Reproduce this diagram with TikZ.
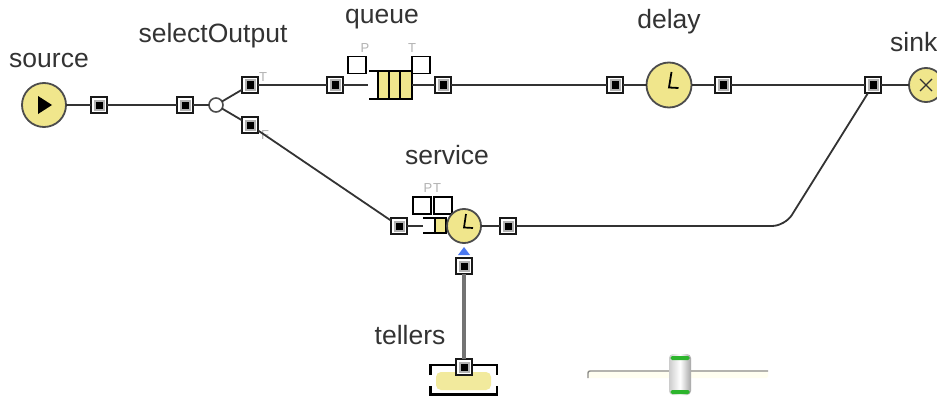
\documentclass[tikz,border=0pt]{standalone}
\usepackage{fontspec}
\setmainfont{Liberation Sans}
\usetikzlibrary{calc}
\definecolor{blockyellow}{HTML}{F0E68C}
\definecolor{wirecol}{HTML}{333333}
\definecolor{markblue}{HTML}{4A78F0}
\definecolor{thumbgreen}{HTML}{2DB52D}
\tikzset{
  x=1pt,y=-1pt,
  port/.style={draw=black!90,line width=2pt,fill=white,minimum size=16.5pt,inner sep=0pt,outer sep=0pt,
    path picture={\fill[black!30] (path picture bounding box.center) ++(-5.5pt,-5.5pt) rectangle ++(11pt,11pt);
      \fill[black] (path picture bounding box.center) ++(-3.5pt,-3.5pt) rectangle ++(7pt,7pt);}},
  wire/.style={draw=wirecol,line width=1.8pt},
  block/.style={circle,draw=black!70,line width=1.8pt,fill=blockyellow,inner sep=0pt,outer sep=0pt},
  title/.style={font=\fontsize{26.5}{28}\selectfont,text=black!80,inner sep=0pt},
  tiny/.style={font=\fontsize{13}{13}\selectfont,text=black!30,inner sep=0pt},
  slot/.style={draw=black,line width=1.8pt,fill=white,minimum width=18pt,minimum height=17pt,inner sep=0pt,outer sep=0pt},
  qline/.style={draw=black,line width=1.8pt},
  qcell/.style={draw=black,line width=2.2pt,fill=blockyellow,inner sep=0pt,outer sep=0pt},
}
\begin{document}
\begin{tikzpicture}
\useasboundingbox (0,0) rectangle (937,396);
\clip (0,0) rectangle (937,396);
\fill[white] (0,0) rectangle (937,396);

% titles
\node[title] (tsource) at (49,60) {source};
\node[title] (tselect) at (213,36) {selectOutput};
\node[title] (tqueue) at (382,19) {queue};
\node[title] (tdelay) at (669,22) {delay};
\node[title] (tservice) at (447,155) {service};
\node[title,anchor=west] (tsink) at (890,42) {sink};
\node[title] (ttellers) at (410,335) {tellers};

% small grey labels
\node[tiny] (lt1) at (263,77) {T};
\node[tiny] (lf1) at (265,135) {F};
\node[tiny] (lp2) at (365,48) {P};
\node[tiny] (lt2) at (412,48) {T};
\node[tiny] (lp3) at (428,188) {P};
\node[tiny] (lt3) at (437,188) {T};

% blocks
\node[block,minimum size=44pt] (source) at (44,105) {};
\fill[black] (38,96) -- (52,105) -- (38,114) -- cycle;
\node[circle,draw=black!70,line width=1.6pt,fill=white,minimum size=14pt,inner sep=0pt,outer sep=0pt] (split) at (216,105) {};

% queue block
\node[qcell,minimum width=11.5pt,minimum height=28pt] (qa) at (384,85) {};
\node[qcell,minimum width=11.5pt,minimum height=28pt] (qb) at (395,85) {};
\node[qcell,minimum width=11.5pt,minimum height=28pt] (qc) at (406,85) {};
\draw[qline] (369,71) -- (qa.north west);
\draw[qline] (369,99) -- (qa.south west);
\node[slot] (qp) at (357,65) {};
\node[slot] (qt) at (421,65) {};
\coordinate (qin) at (368,85);

% delay, sink
\node[block,minimum size=45pt] (delay) at (669,85) {};
\draw[black,line width=1.8pt] (671.5,72) -- (669,87.5) -- (678.5,88);
\node[block,minimum size=34pt] (sink) at (926,85) {};
\draw[black!80,line width=1.3pt] (920,79) -- (932,91) (932,79) -- (920,91);

% service block
\node[qcell,minimum width=11pt,minimum height=15pt] (sq) at (440.5,225.5) {};
\draw[qline] (423,218) -- (sq.north west);
\draw[qline] (423,233) -- (sq.south west);
\coordinate (sin) at (423,226);
\node[slot] (sp) at (422,205.5) {};
\node[slot] (st) at (443,205.5) {};
\node[block,minimum size=34pt] (service) at (464,226) {};
\draw[black,line width=1.7pt] (466,214) -- (464,227.5) -- (473,228);
\fill[markblue] (458,255) -- (464,247) -- (470,255) -- cycle;

% resource pool
\fill[blockyellow!85!white,rounded corners=5pt] (436,372) rectangle (491,390);
\draw[black,line width=2.8pt] (430.5,375) -- (430.5,365) -- (497,365) -- (497,375);
\draw[black,line width=2.8pt] (430.5,386) -- (430.5,394.5) -- (497,394.5) -- (497,386);

% ports
\node[port] (p1) at (99,105) {};
\node[port] (p2) at (185,105) {};
\node[port] (p3) at (250,85) {};
\node[port] (p4) at (250,125) {};
\node[port] (p5) at (335,85) {};
\node[port] (p6) at (443,85) {};
\node[port] (p7) at (615,85) {};
\node[port] (p8) at (723,85) {};
\node[port] (p9) at (873,85) {};
\node[port] (p10) at (399,226) {};
\node[port] (p11) at (508,226) {};
\node[port] (p12) at (464,266) {};
\node[port] (p13) at (464,367) {};

% connectors
\draw[wire] (source) -- (p1);
\draw[wire] (p1) -- (p2);
\draw[wire] (p2) -- (split);
\draw[wire] (split) -- (p3);
\draw[wire] (split) -- (p4);
\draw[wire] (p3) -- (p5);
\draw[wire] (p5) -- (qin);
\draw[wire] (qc.east) -- (p6);
\draw[wire] (p6) -- (p7);
\draw[wire] (p7) -- (delay);
\draw[wire] (delay) -- (p8);
\draw[wire] (p8) -- (p9);
\draw[wire] (p9) -- (sink);
\draw[wire] (p4) -- (p10);
\draw[wire] (p10) -- (sin);
\draw[wire] (service) -- (p11);
\draw[wire,rounded corners=13pt] (p11) -- (785,226) -- (p9);
\draw[draw=black!55,line width=3.2pt] (p12) -- (p13);

% slider
\fill[black!4!yellow!6!white,rounded corners=2pt] (587,370) rectangle (768,378);
\draw[black!45,line width=1.4pt,rounded corners=2pt] (588,378) -- (588,371) -- (768,371);
\shade[left color=black!20,right color=black!35,middle color=white,rounded corners=4pt] (669,354) rectangle (691,395);
\fill[thumbgreen,rounded corners=1.5pt] (670.5,356) rectangle (689.5,360);
\fill[thumbgreen,rounded corners=1.5pt] (670.5,390) rectangle (689.5,394);
\end{tikzpicture}
\end{document}
